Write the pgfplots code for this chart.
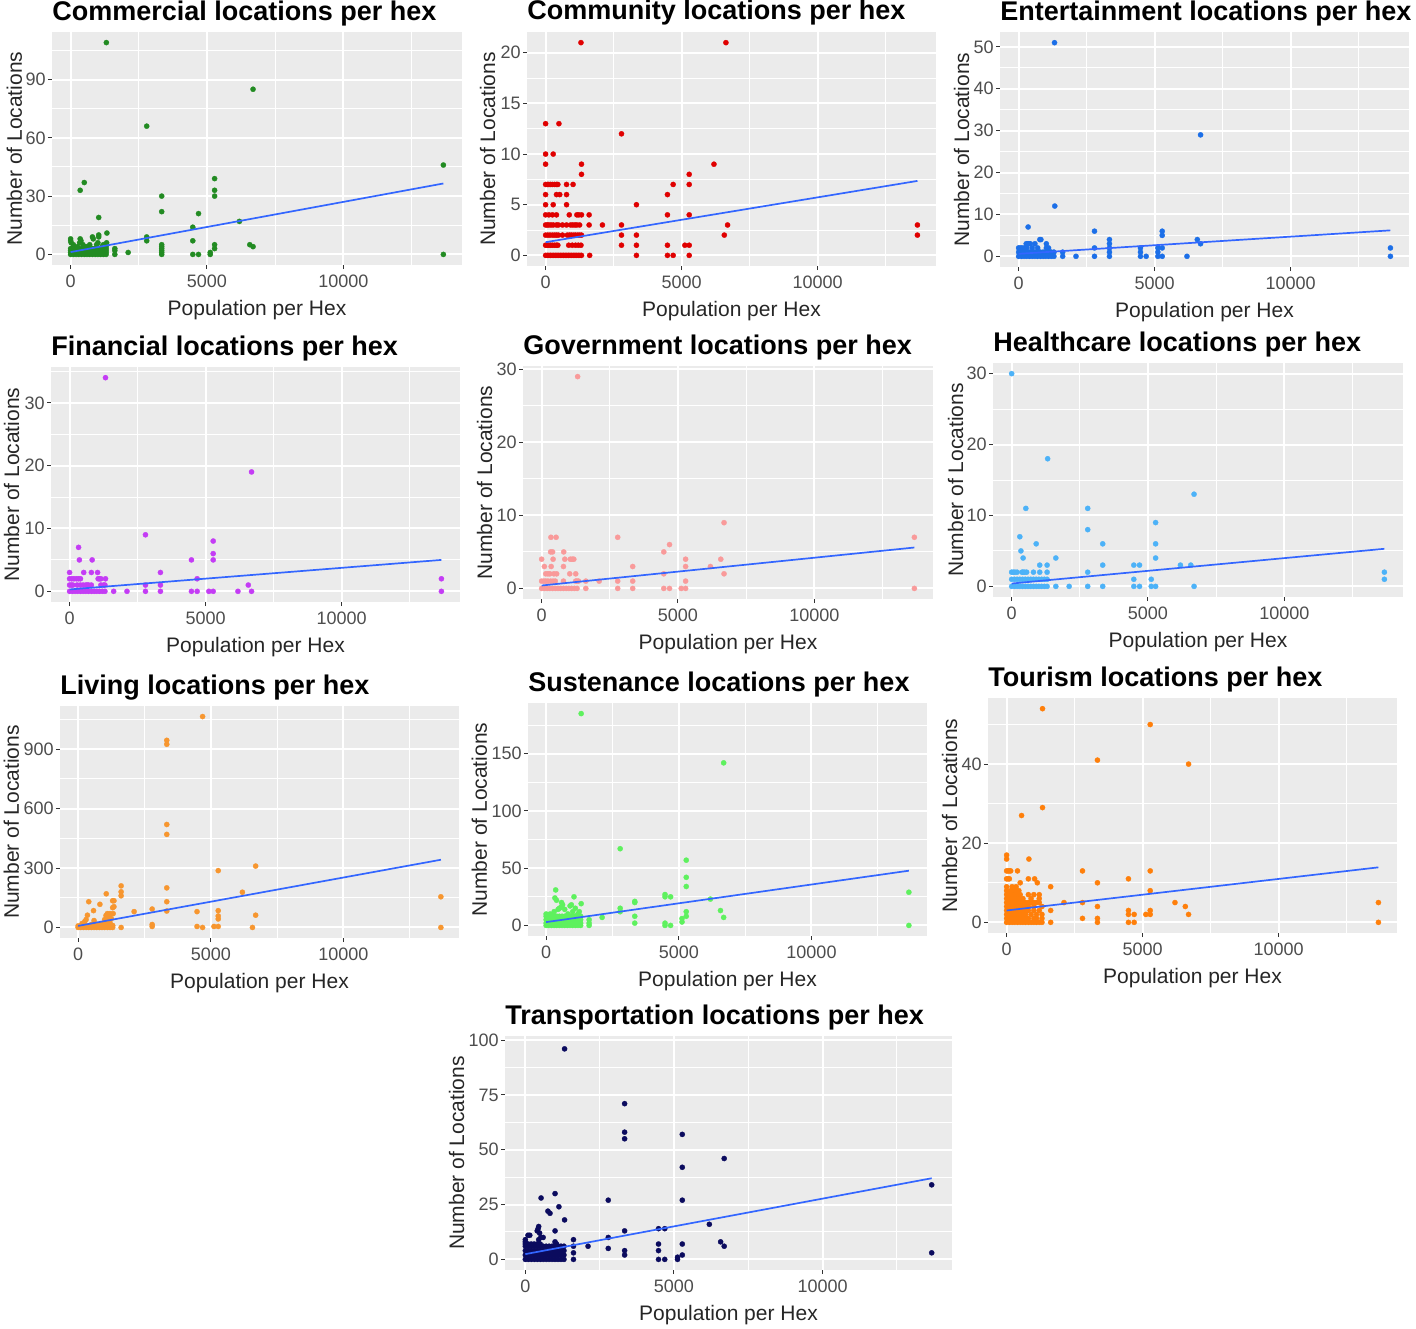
\documentclass[border=0pt]{standalone}
\usepackage{pgfplots}
\pgfplotsset{compat=1.18}
\usepackage{fontspec}
\setmainfont{Liberation Sans}
\definecolor{bggrey}{HTML}{EBEBEB}
\definecolor{tickgrey}{HTML}{333333}
\definecolor{labgrey}{HTML}{4D4D4D}
\definecolor{smooth}{HTML}{3366FF}
\definecolor{cCom}{HTML}{228B22}
\definecolor{cCmu}{HTML}{E00000}
\definecolor{cEnt}{HTML}{1C6FE8}
\definecolor{cFin}{HTML}{C43CF5}
\definecolor{cGov}{HTML}{F99A9A}
\definecolor{cHea}{HTML}{4CB2F8}
\definecolor{cLiv}{HTML}{F7962F}
\definecolor{cSus}{HTML}{5EF15E}
\definecolor{cTou}{HTML}{FF7F0A}
\definecolor{cTra}{HTML}{0B0B5E}
\pgfplotsset{
  hex/.style={
    scale only axis, anchor=south west, clip mode=individual,
    xmin=-683.5, xmax=14353.5,
    xtick={0,5000,10000}, xticklabels={0,5000,10000},
    minor xtick={2500,7500,12500},
    scaled ticks=false,
    axis background/.style={fill=bggrey},
    axis line style={draw=none},
    grid=both,
    major grid style={white, line width=1pt},
    minor grid style={white, line width=0.5pt},
    tick align=outside, tick pos=left,
    major tick length=2pt, minor tick length=0pt,
    tick style={color=tickgrey, line width=0.5pt},
    /pgf/number format/assume math mode=true,
    ticklabel style={font=\fontsize{9}{10}\selectfont, text=labgrey, inner sep=1pt},
    xticklabel style={yshift=-2pt},
    xlabel={Population per Hex}, ylabel={Number of Locations},
    label style={font=\fontsize{10.5}{12}\selectfont, text=black!85},
    xlabel style={at={(axis description cs:0.5,0)}, anchor=base, yshift=-25pt},
    every axis title/.style={at={(axis description cs:0,1)}, anchor=base west, yshift=6pt, inner sep=0pt, font=\bfseries\fontsize{13.5}{15}\selectfont},
  },
  pts/.style={only marks, mark=*, mark size=1.3pt, color=#1, mark options={solid, draw=#1, fill=#1, line width=0.15pt}},
  fit/.style={no marks, color=smooth, line width=0.85pt},
}
\begin{document}
\begin{tikzpicture}
\useasboundingbox (0,0) rectangle (708pt,-664pt);
% 1 Commercial
\begin{axis}[hex, at={(26pt,-132.5pt)}, width=205pt, height=116.5pt,
  ymin=-5.45, ymax=114.45, ytick={0,30,60,90}, minor ytick={15,45,75,105},
  ylabel style={at={(axis description cs:-0.0732,0.5)}, anchor=base},
  title={Commercial locations per hex}]
\addplot[pts=cCom] coordinates {(13670,46) (13670,0) (6690,85) (6690,4) (6570,5) (6190,17) (5280,39) (5280,33) (5280,30) (5280,5) (5280,3) (5120,1) (5120,0) (4690,21) (4690,0) (4480,14) (4480,7) (4480,0) (3340,30) (3340,22) (3340,5) (3340,4) (3340,3) (3340,2) (3340,1) (3340,0) (2790,66) (2790,9) (2790,7) (2110,1) (1620,3) (1620,2) (1620,0) (1310,109) (1330,11) (1030,19) (500,37) (350,33)
(0,8) (0,7) (20,6) (350,8) (380,7) (330,6) (800,9) (830,8) (1030,10) (1030,9) (1320,6) (1000,6) (700,5) (450,5) (100,5) (950,5) (1200,5) (600,4) (250,4) (1150,4) (500,4) (1300,4)
(0,0) (100,0) (200,0) (300,0) (400,0) (500,0) (600,0) (700,0) (800,0) (900,0) (1000,0) (1100,0) (1200,0) (1300,0)
(0,1) (100,1) (200,1) (300,1) (400,1) (500,1) (600,1) (700,1) (800,1) (900,1) (1000,1) (1100,1) (1200,1) (1300,1)
(0,2) (100,2) (200,2) (300,2) (400,2) (500,2) (600,2) (700,2) (800,2) (900,2) (1000,2) (1100,2) (1200,2) (1300,2)
(0,3) (100,3) (200,3) (300,3) (400,3) (500,3) (600,3) (700,3) (800,3) (900,3) (1000,3) (1100,3) (1200,3) (1300,3)};
\addplot[fit] coordinates {(0,1.2) (13670,36.5)};
\end{axis}
% 2 Community
\begin{axis}[hex, at={(263.5pt,-133pt)}, width=204.5pt, height=117pt,
  ymin=-1.05, ymax=22.05, ytick={0,5,10,15,20}, minor ytick={2.5,7.5,12.5,17.5},
  ylabel style={at={(axis description cs:-0.0782,0.5)}, anchor=base},
  title={Community locations per hex}]
\addplot[pts=cCmu] coordinates {(1300,21) (6630,21) (0,13) (490,13) (2790,12) (0,10) (280,10) (0,9) (1320,9) (1320,8)
(0,7) (60,7) (120,7) (180,7) (250,7) (330,7) (400,7) (450,7) (770,7) (1010,7)
(0,6) (400,6) (520,6) (770,6) (0,5) (280,5) (770,5)
(0,4) (120,4) (250,4) (400,4) (870,4) (1150,4) (1220,4) (1320,4) (1600,4)
(0,3) (60,3) (120,3) (200,3) (280,3) (400,3) (470,3) (620,3) (770,3) (920,3) (1000,3) (1080,3) (1150,3) (1250,3) (1600,3) (2090,3) (2790,3)
(0,2) (80,2) (160,2) (250,2) (330,2) (400,2) (470,2) (620,2) (800,2) (880,2) (950,2) (1030,2) (1100,2) (1180,2) (1250,2) (1320,2) (2790,2) (3340,2)
(0,1) (60,1) (120,1) (180,1) (250,1) (330,1) (400,1) (450,1) (850,1) (980,1) (1100,1) (1200,1) (1300,1) (2790,1) (3340,1)
(0,0) (60,0) (120,0) (180,0) (240,0) (300,0) (360,0) (420,0) (480,0) (540,0) (600,0) (660,0) (720,0) (780,0) (840,0) (900,0) (960,0) (1020,0) (1080,0) (1140,0) (1200,0) (1260,0) (1320,0) (1620,0)
(3340,5) (3340,0) (4480,6) (4480,4) (4480,1) (4480,0) (4690,7) (4690,0) (5280,8) (5280,7) (5280,4) (5280,1) (5280,0) (5120,1) (6190,9) (6570,2) (6690,3) (13670,3) (13670,2)};
\addplot[fit] coordinates {(0,1.3) (13670,7.35)};
\end{axis}
% 3 Entertainment
\begin{axis}[hex, at={(500pt,-133.5pt)}, width=204.5pt, height=117.5pt,
  ymin=-2.55, ymax=53.55, ytick={0,10,20,30,40,50}, minor ytick={5,15,25,35,45},
  ylabel style={at={(axis description cs:-0.0758,0.5)}, anchor=base},
  title={Entertainment locations per hex}]
\addplot[pts=cEnt] coordinates {(1320,51) (6690,29) (1330,12) (350,7) (2790,6) (5280,6) (5280,5) (3340,4) (3340,3) (3340,2) (3340,1) (3340,0) (6570,4) (6690,3) (4480,2) (4480,1) (4480,0) (4690,0) (5120,2) (5120,1) (5120,0) (5280,2) (5280,0) (6190,0) (2110,0) (1620,1) (1620,0) (2790,2) (2790,0) (13670,2) (13670,0)
(780,4) (820,4) (280,3) (330,3) (380,3) (430,3) (600,3) (1020,3) (1020,2) (0,2) (60,2) (120,2) (200,2) (300,2) (500,2) (700,2) (1100,2)
(0,1) (100,1) (200,1) (300,1) (400,1) (500,1) (600,1) (700,1) (800,1) (900,1) (1000,1) (1100,1) (1200,1) (1300,1)
(0,0) (100,0) (200,0) (300,0) (400,0) (500,0) (600,0) (700,0) (800,0) (900,0) (1000,0) (1100,0) (1200,0) (1300,0)};
\addplot[fit] coordinates {(0,0.6) (13670,6.2)};
\end{axis}
% 4 Financial
\begin{axis}[hex, at={(25.5pt,-301pt)}, width=204.5pt, height=117.5pt,
  ymin=-1.7, ymax=35.7, ytick={0,10,20,30}, minor ytick={5,15,25,35},
  ylabel style={at={(axis description cs:-0.0782,0.5)}, anchor=base},
  title={Financial locations per hex}]
\addplot[pts=cFin] coordinates {(1320,34) (6690,19) (2790,9) (5280,8) (5280,6) (5280,5) (4480,5) (330,7) (360,5) (830,5) (3340,3) (3340,1) (3340,0) (4690,2) (4690,0) (4480,0) (5120,0) (5280,0) (6190,0) (6570,1) (6690,0) (2790,1) (2790,0) (1620,0) (2110,0) (13670,2) (13670,0)
(0,3) (0,2) (80,2) (160,2) (250,2) (330,2) (400,2) (520,3) (800,3) (1030,3) (1050,2) (1100,2) (1150,2) (1320,2)
(0,1) (60,1) (120,1) (280,1) (400,1) (500,1) (600,1) (650,1) (700,1) (800,1) (1150,1) (1250,1) (1300,1)
(0,0) (100,0) (200,0) (300,0) (400,0) (500,0) (600,0) (700,0) (800,0) (900,0) (1000,0) (1100,0) (1200,0) (1300,0)};
\addplot[fit] coordinates {(0,0.3) (13670,5.0)};
\end{axis}
% 5 Government
\begin{axis}[hex, at={(261.5pt,-299.5pt)}, width=205pt, height=116.5pt,
  ymin=-1.45, ymax=30.45, ytick={0,10,20,30}, minor ytick={5,15,25},
  ylabel style={at={(axis description cs:-0.0756,0.5)}, anchor=base},
  title={Government locations per hex}]
\addplot[pts=cGov] coordinates {(1320,29) (6690,9) (2790,7) (13670,7) (13670,0) (4690,6) (4480,5) (4480,2) (4480,0) (5280,4) (5280,3) (5280,1) (5280,0) (5120,0) (6570,4) (6690,2) (6190,3) (3340,3) (3340,1) (3340,0) (2790,1) (2790,0) (2110,1) (1620,1) (1620,0) (4690,0)
(340,7) (530,7) (330,5) (400,5) (810,5) (0,4) (420,4) (850,4) (1050,4) (1120,4) (1180,4) (100,3) (350,3) (800,3) (150,2) (230,2) (300,2) (450,2) (550,2) (1030,2) (1250,2)
(0,1) (80,1) (150,1) (230,1) (330,1) (420,1) (500,1) (800,1) (1250,1) (1300,1) (1350,1)
(0,0) (100,0) (200,0) (300,0) (400,0) (500,0) (600,0) (700,0) (800,0) (900,0) (1000,0) (1100,0) (1200,0) (1300,0)};
\addplot[fit] coordinates {(0,0.4) (13670,5.6)};
\end{axis}
% 6 Healthcare
\begin{axis}[hex, at={(496.5pt,-298.5pt)}, width=205pt, height=117pt,
  ymin=-1.5, ymax=31.5, ytick={0,10,20,30}, minor ytick={5,15,25},
  ylabel style={at={(axis description cs:-0.0732,0.5)}, anchor=base},
  title={Healthcare locations per hex}]
\addplot[pts=cHea] coordinates {(0,30) (1320,18) (6690,13) (520,11) (2790,11) (2790,8) (5280,9) (5280,6) (5280,4) (5280,0) (300,7) (900,6) (340,5) (420,4) (1620,4) (3340,6) (3340,3) (3340,0) (4480,3) (4480,1) (4480,0) (4690,3) (4690,0) (5120,1) (5120,0) (6190,3) (6570,3) (6690,0) (2790,2) (2790,0) (2110,0) (13670,2) (13670,1) (1620,0)
(1030,3) (1300,3) (1030,2) (1300,2) (800,2) (0,2) (60,2) (120,2) (200,2) (380,2) (420,2) (480,2) (550,2)
(0,1) (100,1) (200,1) (300,1) (400,1) (500,1) (600,1) (700,1) (800,1) (900,1) (1000,1) (1100,1) (1200,1) (1300,1)
(0,0) (100,0) (200,0) (300,0) (400,0) (500,0) (600,0) (700,0) (800,0) (900,0) (1000,0) (1100,0) (1200,0) (1300,0)};
\addplot[fit] coordinates {(0,0.4) (13670,5.3)};
\end{axis}
% 7 Living
\begin{axis}[hex, at={(30pt,-469pt)}, width=199.5pt, height=116pt,
  ymin=-53.25, ymax=1118.25, ytick={0,300,600,900}, minor ytick={150,450,750,1050},
  ylabel style={at={(axis description cs:-0.1028,0.5)}, anchor=base},
  title={Living locations per hex}]
\addplot[pts=cLiv] coordinates {(4690,1065) (3340,945) (3340,925) (3340,520) (3340,470) (5280,287) (6690,310) (3340,200) (3340,130) (3340,83) (1620,210) (1620,180) (1620,160) (6190,178) (13670,155) (13670,0) (2110,80) (2790,93) (2790,15) (2790,5) (4480,80) (4480,5) (4690,0) (5280,85) (5280,58) (5280,43) (5280,5) (5120,5) (6570,0) (6690,62) (1620,0)
(1060,170) (1300,135) (1350,135) (1300,100) (1350,105) (400,130) (820,117) (580,85) (350,62) (1100,70) (1050,60) (1200,70) (1320,70) (1100,30) (1000,20) (300,40) (250,30) (600,35) (150,20) (500,15) (700,15) (900,20) (1250,45) (1150,50) (1000,40) (1200,25) (450,10) (800,10) (1300,10)
(0,8) (100,8) (200,8) (300,8) (400,8) (500,8) (600,8) (700,8) (800,8) (900,8) (1000,8) (1100,8) (1200,8) (1300,8)
(0,0) (100,0) (200,0) (300,0) (400,0) (500,0) (600,0) (700,0) (800,0) (900,0) (1000,0) (1100,0) (1200,0) (1300,0)};
\addplot[fit] coordinates {(0,8) (13670,342)};
\end{axis}
% 8 Sustenance
\begin{axis}[hex, at={(264pt,-468pt)}, width=199.5pt, height=116.5pt,
  ymin=-9.25, ymax=194.25, ytick={0,50,100,150}, minor ytick={25,75,125,175},
  ylabel style={at={(axis description cs:-0.1028,0.5)}, anchor=base},
  title={Sustenance locations per hex}]
\addplot[pts=cSus] coordinates {(1320,185) (6690,142) (2790,67) (5280,57) (5280,42) (5280,34) (13670,29) (13670,0) (360,31) (1050,25) (330,24) (390,22) (4480,27) (4480,25) (4480,2) (4480,0) (4690,25) (4690,0) (3340,21) (3340,20) (3340,8) (3340,2) (6190,23) (6570,13) (6690,7) (5280,12) (5280,8) (5120,6) (5120,3) (2790,15) (2790,12) (2110,7) (1620,5) (1620,2) (1620,0) (1320,19)
(900,17) (950,18) (580,20) (500,15) (700,14) (1000,12) (1200,10) (300,12) (450,14) (560,16) (620,18) (820,10) (1100,15) (1250,12) (150,10) (0,10) (200,8)
(0,8) (100,8) (200,8) (300,8) (400,8) (500,8) (600,8) (700,8) (800,8) (900,8) (1000,8) (1100,8) (1200,8) (1300,8)
(0,5) (100,5) (200,5) (300,5) (400,5) (500,5) (600,5) (700,5) (800,5) (900,5) (1000,5) (1100,5) (1200,5) (1300,5)
(0,2) (100,2) (200,2) (300,2) (400,2) (500,2) (600,2) (700,2) (800,2) (900,2) (1000,2) (1100,2) (1200,2) (1300,2)
(0,0) (100,0) (200,0) (300,0) (400,0) (500,0) (600,0) (700,0) (800,0) (900,0) (1000,0) (1100,0) (1200,0) (1300,0)};
\addplot[fit] coordinates {(0,2.9) (13670,47.8)};
\end{axis}
% 9 Tourism
\begin{axis}[hex, at={(494pt,-466.5pt)}, width=204.5pt, height=117.5pt,
  ymin=-2.7, ymax=56.7, ytick={0,20,40}, minor ytick={10,30,50},
  ylabel style={at={(axis description cs:-0.0758,0.5)}, anchor=base},
  title={Tourism locations per hex}]
\addplot[pts=cTou] coordinates {(1320,54) (5280,50) (3340,41) (6690,40) (1320,29) (550,27) (0,17) (0,16) (820,16) (0,13) (50,13) (100,13) (150,13) (400,13) (2790,13) (5280,13) (0,11) (50,11) (100,11) (800,11) (1030,11) (4480,11) (3340,10) (1130,10) (500,10) (1620,9) (5280,8) (6190,5) (2110,5) (2790,5) (6570,4) (3340,4) (3340,1) (3340,0) (4480,3) (4480,2) (4480,0) (4690,2) (4690,0) (5120,2) (5280,3) (5280,2) (6690,2) (2790,1) (1620,3) (1620,0) (13670,5) (13670,0)
(0,9) (200,9) (350,9) (0,8) (150,8) (300,8) (450,8) (0,7) (100,7) (200,7) (300,7) (400,7) (500,7) (800,7) (1000,7) (1200,7)
(0,6) (100,6) (200,6) (300,6) (400,6) (500,6) (600,6) (900,6) (1200,6)
(0,5) (100,5) (200,5) (300,5) (400,5) (500,5) (600,5) (700,5) (800,5) (900,5) (1000,5) (1100,5) (1200,5)
(0,4) (100,4) (200,4) (300,4) (400,4) (500,4) (600,4) (700,4) (800,4) (1000,4) (1300,4)
(0,3) (100,3) (200,3) (300,3) (400,3) (500,3) (600,3) (700,3) (800,3) (1000,3) (1200,3)
(0,2) (100,2) (200,2) (300,2) (400,2) (500,2) (600,2) (700,2) (900,2) (1100,2) (1300,2)
(0,1) (100,1) (200,1) (300,1) (400,1) (500,1) (600,1) (700,1) (800,1) (1000,1) (1100,1) (1300,1)
(0,0) (100,0) (200,0) (300,0) (400,0) (500,0) (600,0) (700,0) (800,0) (900,0) (1000,0) (1100,0) (1200,0) (1300,0)};
\addplot[fit] coordinates {(0,3.0) (13670,13.9)};
\end{axis}
% 10 Transportation
\begin{axis}[hex, at={(252.5pt,-635pt)}, width=223.5pt, height=117pt,
  ymin=-4.85, ymax=101.85, ytick={0,25,50,75,100}, minor ytick={12.5,37.5,62.5,87.5},
  ylabel style={at={(axis description cs:-0.0917,0.5)}, anchor=base},
  title={Transportation locations per hex}]
\addplot[pts=cTra] coordinates {(1320,96) (3340,71) (3340,58) (3340,55) (5280,57) (6690,46) (5280,42) (13670,34) (13670,3) (1000,30) (530,28) (2790,27) (5280,27) (1130,24) (760,22) (830,21) (1320,18) (6190,16) (450,15) (430,14) (4480,14) (4690,14) (3340,13) (1000,13) (90,11) (150,11) (2790,10) (2790,5) (1000,8) (6570,8) (6690,6) (4480,7) (4480,4) (4480,0) (5280,7) (5280,2) (3340,4) (3340,2) (2110,6) (1620,9) (1620,6) (1620,3) (1620,0) (5120,1) (5120,0) (4690,0)
(0,9) (0,8) (400,13) (480,12) (520,10) (600,10) (450,9) (1050,7) (1100,6) (950,5) (1200,4) (0,7) (100,7) (200,7) (300,7) (400,7) (500,7)
(0,6) (100,6) (200,6) (300,6) (400,6) (500,6) (600,6) (700,6) (800,6) (900,6) (1000,6) (1100,6) (1200,6) (1300,6)
(0,4) (100,4) (200,4) (300,4) (400,4) (500,4) (600,4) (700,4) (800,4) (900,4) (1000,4) (1100,4) (1200,4) (1300,4)
(0,2) (100,2) (200,2) (300,2) (400,2) (500,2) (600,2) (700,2) (800,2) (900,2) (1000,2) (1100,2) (1200,2) (1300,2)
(0,0) (100,0) (200,0) (300,0) (400,0) (500,0) (600,0) (700,0) (800,0) (900,0) (1000,0) (1100,0) (1200,0) (1300,0)};
\addplot[fit] coordinates {(0,2.4) (13670,37)};
\end{axis}
\end{tikzpicture}
\end{document}
